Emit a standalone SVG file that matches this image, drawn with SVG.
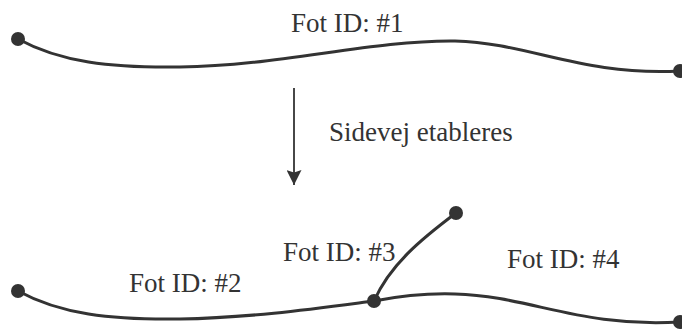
<svg xmlns="http://www.w3.org/2000/svg" width="682" height="331" viewBox="0 0 682 331">
  <style>
    .road { fill: none; stroke: #333333; stroke-width: 3; stroke-linecap: round; }
    .dot { fill: #333333; }
    .lbl { font-family: "Liberation Serif", "Times New Roman", serif; font-size: 27px; fill: #333333; }
    .arrow { stroke: #333333; stroke-width: 1.8; fill: none; }
  </style>
  <defs>
    <marker id="head" viewBox="0 0 15 15" refX="15" refY="7.5" markerWidth="15" markerHeight="15" orient="auto" markerUnits="userSpaceOnUse">
      <path d="M0,0 L15,7.5 L0,15 L2.5,7.5 Z" fill="#333333"/>
    </marker>
  </defs>

  <!-- before: single road -->
  <g id="road1">
    <path class="road" d="M18,39 C60,62 110,68 180,67 C280,66 370,40 455,41 C530,43 580,76 680,71"/>
    <circle class="dot" cx="18" cy="39" r="7"/>
    <circle class="dot" cx="680" cy="71" r="7"/>
    <text class="lbl" x="291" y="32">Fot ID: #1</text>
  </g>

  <!-- transition -->
  <g id="connectors">
    <line class="arrow" x1="294" y1="88" x2="294" y2="185" marker-end="url(#head)"/>
  </g>
  <g id="step">
    <text class="lbl" x="329" y="141">Sidevej etableres</text>
  </g>

  <!-- after: split road with side road -->
  <g id="road2">
    <path class="road" d="M18,291 C60,314 110,320 180,319 C250,318 320,308 374,301"/>
    <text class="lbl" x="129" y="292">Fot ID: #2</text>
  </g>
  <g id="road3">
    <path class="road" d="M374,301 C390,265 420,240 456,213"/>
    <circle class="dot" cx="456" cy="213" r="7"/>
    <text class="lbl" x="283" y="261">Fot ID: #3</text>
  </g>
  <g id="road4">
    <path class="road" d="M374,301 C400,296 425,293 455,294 C530,296 580,328 680,322"/>
    <circle class="dot" cx="680" cy="322" r="7"/>
    <text class="lbl" x="507" y="268">Fot ID: #4</text>
  </g>
  <g id="junction">
    <circle class="dot" cx="18" cy="291" r="7"/>
    <circle class="dot" cx="374" cy="301" r="7"/>
  </g>
</svg>
